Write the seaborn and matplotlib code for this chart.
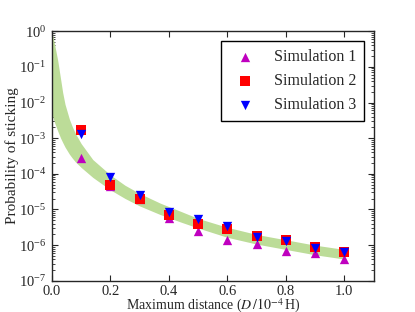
import numpy as np
import pandas as pd
import matplotlib
matplotlib.use("Agg")
import matplotlib.pyplot as plt
import seaborn as sns

# Simulated sticking probabilities
distance = [0.1, 0.2, 0.3, 0.4, 0.5, 0.6, 0.7, 0.8, 0.9, 1.0]
sim1 = [2.8e-4, 4.5e-5, 2.0e-5, 5.9e-6, 2.5e-6, 1.38e-6, 1.05e-6, 7.0e-7, 6.0e-7, 4.0e-7]
sim2 = [1.65e-3, 4.8e-5, 2.0e-5, 6.8e-6, 3.8e-6, 2.75e-6, 1.85e-6, 1.37e-6, 8.7e-7, 6.3e-7]
sim3 = [1.3e-3, 7.9e-5, 2.5e-5, 8.5e-6, 5.5e-6, 3.4e-6, 1.7e-6, 1.29e-6, 8.3e-7, 6.3e-7]

# Green band (theory range), log10 of the upper and lower edges
band_d = [0.0, 0.01, 0.02, 0.03, 0.037, 0.045, 0.06, 0.07, 0.08, 0.1, 0.14, 0.2,
          0.25, 0.3, 0.37, 0.44, 0.5, 0.6, 0.7, 0.8, 0.9, 1.0]
band_hi = [0.0, -0.4, -0.82, -1.35, -1.72, -2.05, -2.47, -2.68, -2.86, -3.15, -3.6, -4.03,
           -4.32, -4.55, -4.82, -5.05, -5.25, -5.5, -5.7, -5.85, -6.0, -6.12]
band_lo = [-2.32, -2.58, -2.8, -3.0, -3.12, -3.25, -3.45, -3.56, -3.66, -3.82, -4.1, -4.45,
           -4.69, -4.9, -5.14, -5.35, -5.52, -5.78, -5.97, -6.12, -6.27, -6.39]

sns.set_style("ticks")
plt.rcParams["font.family"] = ["Liberation Serif", "DejaVu Serif"]
plt.rcParams["mathtext.fontset"] = "stix"
plt.rcParams["xtick.direction"] = "in"
plt.rcParams["ytick.direction"] = "in"
plt.rcParams["xtick.top"] = True
plt.rcParams["ytick.right"] = True
plt.rcParams["xtick.major.size"] = 4
plt.rcParams["ytick.major.size"] = 4
plt.rcParams["ytick.minor.size"] = 2
plt.rcParams["ytick.minor.visible"] = True

fig, ax = plt.subplots(figsize=(4.15, 3.12), dpi=100)
fig.subplots_adjust(left=0.125, right=0.9, bottom=0.1, top=0.9)

ax.fill_between(band_d, 10 ** np.array(band_lo), 10 ** np.array(band_hi),
                color="#bcdc98", linewidth=0)

df = pd.DataFrame({"D": distance * 3,
                   "P": sim1 + sim2 + sim3,
                   "run": ["Simulation 1"] * 10 + ["Simulation 2"] * 10 + ["Simulation 3"] * 10})
styles = {"Simulation 1": ("^", "m"), "Simulation 2": ("s", "red"), "Simulation 3": ("v", "blue")}
for run, (mk, col) in styles.items():
    sub = df[df["run"] == run]
    sns.scatterplot(data=sub, x="D", y="P", marker=mk, color=col, s=45,
                    linewidth=0, ax=ax, label=run, zorder=3)

ax.set_yscale("log")
ax.set_xlim(0, 1.1)
ax.set_ylim(1e-7, 1)
ax.set_xticks([0.0, 0.2, 0.4, 0.6, 0.8, 1.0])
ax.set_xticklabels(["0.0", "0.2", "0.4", "0.6", "0.8", "1.0"])
ax.set_yticks([10.0 ** k for k in range(-7, 1)])
ax.tick_params(labelsize=10.5)
ax.tick_params(axis="x", pad=3)
ax.tick_params(axis="y", pad=4)
for sp in ax.spines.values():
    sp.set_linewidth(1.0)

ax.set_xlabel(r"Maximum distance ($D\,/10^{-4}\,$H)", fontsize=10, labelpad=-1)
ax.set_ylabel("Probability of sticking", fontsize=11, labelpad=0)

leg = ax.legend(loc="upper right", fontsize=11.5, frameon=True, fancybox=False,
                edgecolor="black", framealpha=1, borderaxespad=0.6,
                handletextpad=0.8, borderpad=0.5)
leg.get_frame().set_linewidth(1.0)

fig.savefig("out.png", dpi=100)
